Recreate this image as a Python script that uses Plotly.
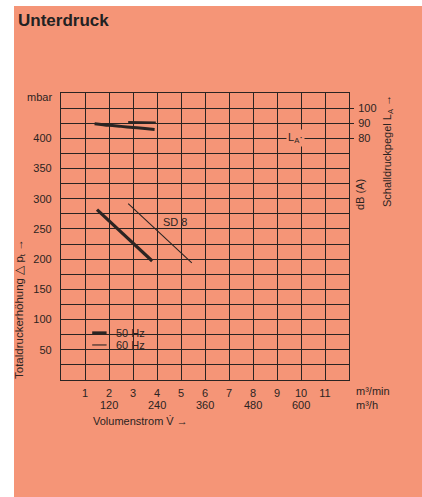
import plotly.graph_objects as go

# Volumenstrom in m³/min, Totaldruckerhöhung in mbar
p50_flow = [1.5, 3.8]
p50_mbar = [282, 197]
p60_flow = [2.8, 5.45]
p60_mbar = [292, 194]

# Schalldruckpegel L_A in dB(A)
la50_flow = [1.4, 2.0, 2.5, 3.0, 3.5, 3.9]
la50_db = [89.7, 88.6, 87.9, 87.2, 86.5, 85.9]
la60_flow = [2.8, 3.95]
la60_db = [90.8, 90.6]

flow_ticks = [1, 2, 3, 4, 5, 6, 7, 8, 9, 10, 11]
flow_h_labels = [120, 240, 360, 480, 600]
mbar_ticks = [50, 100, 150, 200, 250, 300, 350, 400]
db_ticks = [80, 90, 100]

W, H = 422, 497
L, R, T, B = 61, 73, 93, 117
PW, PH = W - L - R, H - T - B

def px(xp):
    return (xp - L) / PW

def py(yp):
    return (H - B - yp) / PH

BG = "#F59577"
INK = "#2b2422"
FONT = "Liberation Sans, Arial, sans-serif"

fig = go.Figure()

fig.add_trace(go.Scatter(x=p50_flow, y=p50_mbar, mode="lines",
                         line=dict(color=INK, width=3.2), showlegend=False))
fig.add_trace(go.Scatter(x=p60_flow, y=p60_mbar, mode="lines",
                         line=dict(color=INK, width=1.1), showlegend=False))
fig.add_trace(go.Scatter(x=la50_flow, y=la50_db, mode="lines", yaxis="y2",
                         line=dict(color=INK, width=3, shape="spline"), showlegend=False))
fig.add_trace(go.Scatter(x=la60_flow, y=la60_db, mode="lines", yaxis="y2",
                         line=dict(color=INK, width=1.8), showlegend=False))

# orange panel behind the whole diagram
fig.add_shape(type="rect", xref="paper", yref="paper", layer="below",
              x0=px(14), x1=px(W + 2), y0=py(H + 2), y1=py(6),
              fillcolor=BG, line=dict(width=0))

# legend swatches
fig.add_shape(type="line", xref="x", yref="y", x0=1.3, x1=1.9, y0=78, y1=78,
              line=dict(color=INK, width=3))
fig.add_shape(type="line", xref="x", yref="y", x0=1.3, x1=1.9, y0=58, y1=58,
              line=dict(color=INK, width=1.1))

ann = []
tf = dict(family=FONT, size=11, color=INK)
ann.append(dict(text="<b>Unterdruck</b>", xref="paper", yref="paper", x=px(16), y=py(20),
                xanchor="left", yanchor="middle", showarrow=False,
                font=dict(family=FONT, size=17, color="#222")))
ann.append(dict(text="mbar", xref="paper", yref="paper", x=px(54), y=py(97),
                xanchor="right", yanchor="middle", showarrow=False, font=tf))
ann.append(dict(text="Totaldruckerhöhung \u25b3 p<sub>t</sub> \u2192", xref="paper", yref="paper",
                x=px(20), y=py(381), xanchor="center", yanchor="bottom", textangle=-90,
                showarrow=False, font=dict(family=FONT, size=11.5, color=INK)))
ann.append(dict(text="dB (A)", xref="paper", yref="paper", x=px(360), y=py(195),
                xanchor="center", yanchor="middle", textangle=-90, showarrow=False, font=tf))
ann.append(dict(text="Schalldruckpegel L<sub>A</sub> \u2192", xref="paper", yref="paper",
                x=px(388), y=py(151), xanchor="center", yanchor="middle", textangle=-90,
                showarrow=False, font=tf))
ann.append(dict(text="m\u00b3/min", xref="paper", yref="paper", x=px(354), y=py(391),
                xanchor="left", yanchor="middle", showarrow=False, font=tf))
ann.append(dict(text="m\u00b3/h", xref="paper", yref="paper", x=px(354), y=py(405),
                xanchor="left", yanchor="middle", showarrow=False, font=tf))
for v in flow_h_labels:
    ann.append(dict(text=str(v), xref="x", yref="paper", x=v / 60, y=py(405),
                    xanchor="center", yanchor="middle", showarrow=False, font=tf))
ann.append(dict(text="Volumenstrom V\u0307 \u2192", xref="paper", yref="paper",
                x=px(140), y=py(421), xanchor="center", yanchor="middle",
                showarrow=False, font=tf))
ann.append(dict(text="SD 8", xref="x", yref="y", x=4.75, y=261, xanchor="center",
                yanchor="middle", showarrow=False, font=tf))
ann.append(dict(text="L<sub>A</sub>\u00b7", xref="x", yref="y2", x=9.75, y=80,
                xanchor="center", yanchor="middle", showarrow=False, font=tf,
                bgcolor=BG))
ann.append(dict(text="50 Hz", xref="x", yref="y", x=2.2, y=78, xanchor="left",
                yanchor="middle", showarrow=False, font=tf))
ann.append(dict(text="60 Hz", xref="x", yref="y", x=2.2, y=58, xanchor="left",
                yanchor="middle", showarrow=False, font=tf))

fig.update_layout(
    width=W, height=H,
    margin=dict(l=L, r=R, t=T, b=B),
    paper_bgcolor="white", plot_bgcolor=BG,
    font=dict(family=FONT, size=11, color=INK),
    annotations=ann,
    xaxis=dict(range=[0, 12], tickmode="array", tickvals=flow_ticks,
               ticktext=[str(t) for t in flow_ticks], showgrid=True,
               gridcolor=INK, gridwidth=1, zeroline=False,
               showline=True, linecolor=INK, linewidth=1.2, mirror=True,
               ticks="", ticklabelstandoff=3, tickfont=tf, fixedrange=True),
    yaxis=dict(range=[0, 475], tickmode="array", tickvals=mbar_ticks,
               ticktext=[str(t) for t in mbar_ticks], showgrid=True,
               gridcolor=INK, gridwidth=1, zeroline=False,
               minor=dict(dtick=25, tick0=0, showgrid=True, gridcolor=INK, gridwidth=1),
               showline=True, linecolor=INK, linewidth=1.2, mirror=True,
               ticks="", ticklabelstandoff=6, tickfont=tf, fixedrange=True),
    yaxis2=dict(overlaying="y", side="right", range=[-80, 110], tickmode="array",
                tickvals=db_ticks, ticktext=[str(t) for t in db_ticks],
                showgrid=False, zeroline=False, showline=False,
                ticks="outside", ticklen=4, tickcolor=INK, tickwidth=1,
                ticklabelstandoff=2, tickfont=tf, fixedrange=True),
)

fig.write_html("out.html")
